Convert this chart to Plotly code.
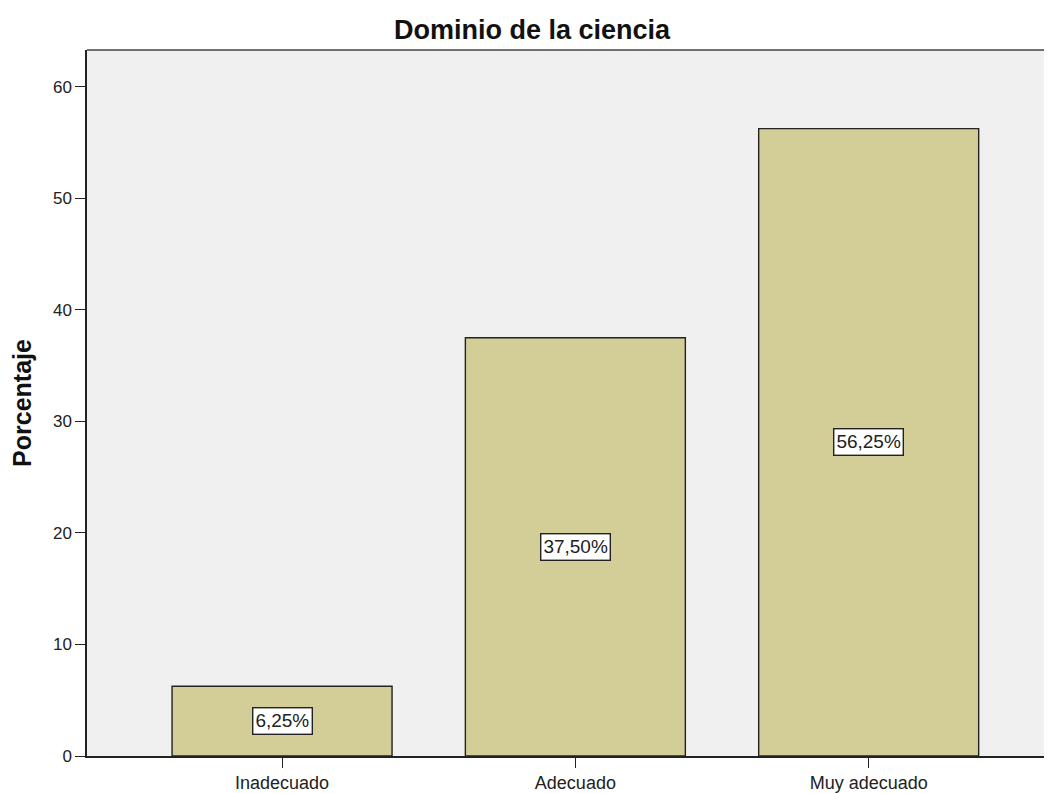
import plotly.graph_objects as go

categories = ["Inadecuado", "Adecuado", "Muy adecuado"]
percentages = [6.25, 37.50, 56.25]
value_labels = ["6,25%", "37,50%", "56,25%"]
y_ticks = [0, 10, 20, 30, 40, 50, 60]

fig = go.Figure()

fig.add_trace(
    go.Bar(
        x=categories,
        y=percentages,
        width=0.75,
        marker=dict(color="#D3CE97", line=dict(color="#222222", width=1.4)),
        hoverinfo="x+y",
    )
)

# value boxes at half bar height
for cat, val, lab in zip(categories, percentages, value_labels):
    fig.add_annotation(
        x=cat, y=val / 2, text=lab, showarrow=False,
        font=dict(family="Liberation Sans, Arial", size=19, color="#222222"),
        bgcolor="white", bordercolor="#222222", borderwidth=1.4, borderpad=2,
    )

# the page body adds an 8px margin, so the figure is a bit smaller than the window
fig.update_layout(
    width=1044,
    height=785,
    margin=dict(l=79, r=0, t=42, b=31),
    paper_bgcolor="white",
    plot_bgcolor="#F0F0F0",
    showlegend=False,
    font=dict(family="Liberation Sans, Arial", size=17, color="#222222"),
    title=dict(
        text="<b>Dominio de la ciencia</b>",
        font=dict(size=27, color="#111111"),
        x=0.502, xanchor="center", y=0.973, yanchor="middle",
        xref="container", yref="container",
    ),
)

fig.update_xaxes(
    range=[-0.665, 2.625],
    showline=True, linecolor="#222222", linewidth=1.5,
    ticks="outside", ticklen=10, tickcolor="#222222",
    showgrid=False, zeroline=False,
    tickfont=dict(size=18),
)
fig.update_yaxes(
    range=[0, 63.3],
    tickvals=y_ticks,
    showline=True, linecolor="#222222", linewidth=1.5,
    ticks="outside", ticklen=10, tickcolor="#222222",
    showgrid=False, zeroline=False,
    tickfont=dict(size=17),
    title=dict(text="<b>Porcentaje</b>", font=dict(size=25, color="#111111"), standoff=20),
)

# top frame line
fig.add_shape(
    type="line", xref="paper", yref="paper", x0=0, x1=1, y0=1, y1=1,
    line=dict(color="#444444", width=1.5),
)

fig.write_html("out.html")
